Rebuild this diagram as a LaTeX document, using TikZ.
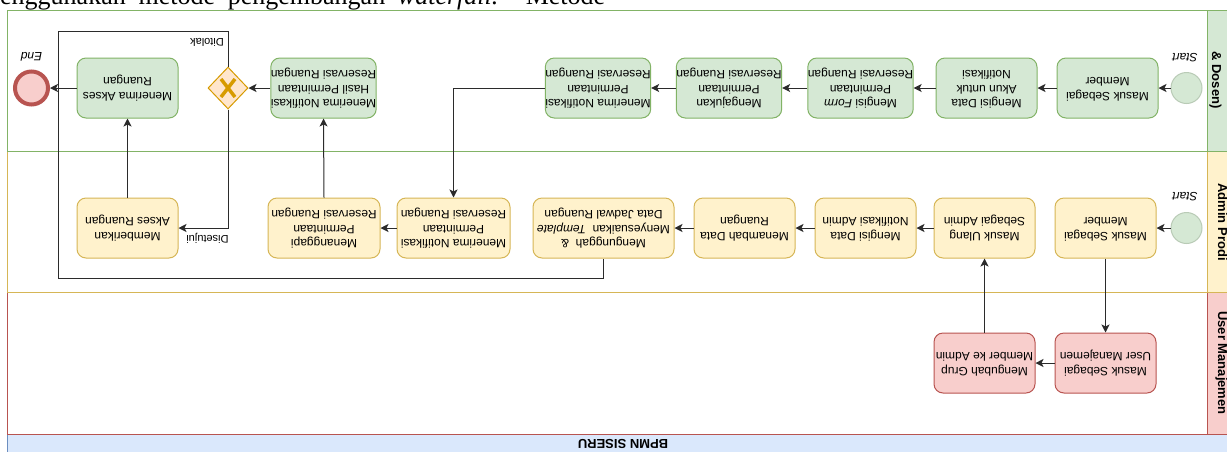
\documentclass[tikz,border=0pt]{standalone}
\usepackage{fontspec}
\setmainfont{Liberation Sans}
\newfontfamily\serifface{Liberation Serif}
\usepackage{graphicx}
\usetikzlibrary{shapes.geometric,arrows.meta}

\definecolor{gFill}{HTML}{D5E8D4}\definecolor{gLine}{HTML}{82B366}
\definecolor{yFill}{HTML}{FFF2CC}\definecolor{yLine}{HTML}{D6B656}
\definecolor{rFill}{HTML}{F8CECC}\definecolor{rLine}{HTML}{B85450}
\definecolor{bFill}{HTML}{DAE8FC}\definecolor{bLine}{HTML}{6C8EBF}
\definecolor{oFill}{HTML}{FFE6CC}\definecolor{oLine}{HTML}{D79B00}
\definecolor{startLine}{HTML}{B9CBB6}
\definecolor{wire}{HTML}{2B2B2B}

% upside-down, centred multi-line label
\newcommand{\upsd}[1]{\rotatebox[origin=c]{180}{\begin{tabular}{@{}c@{}}#1\end{tabular}}}

\tikzset{
  task/.style={rectangle, rounded corners=9pt, draw, line width=1pt,
    minimum width=101pt, minimum height=60pt, inner sep=0pt,
    font=\fontsize{12}{14.4}\selectfont},
  gtask/.style={task, fill=gFill, draw=gLine},
  ytask/.style={task, fill=yFill, draw=yLine},
  rtask/.style={task, fill=rFill, draw=rLine},
  startev/.style={circle, draw=startLine, fill=gFill, line width=1pt,
    minimum size=31pt, inner sep=0pt},
  endev/.style={circle, draw=rLine, fill=rFill, line width=4pt,
    minimum size=33pt, inner sep=0pt},
  xgate/.style={diamond, draw=oLine, fill=oFill, line width=1pt,
    minimum width=40pt, minimum height=42pt, inner sep=0pt},
  flow/.style={draw=wire, line width=1pt, -{Stealth[length=8pt,width=8pt,inset=2pt]}},
  link/.style={draw=wire, line width=1pt},
  evlabel/.style={font=\itshape\fontsize{12}{14}\selectfont, rotate=180, inner sep=0pt},
  edgelabel/.style={font=\fontsize{11}{13}\selectfont, rotate=180, inner sep=0pt},
  lanelabel/.style={font=\bfseries\fontsize{13}{15.6}\selectfont, rotate=-90,
    anchor=base, inner sep=0pt},
  lanebox/.style={line width=1pt}
}

\begin{document}
\begin{tikzpicture}[x=1pt,y=-1pt]
\useasboundingbox (0,0) rectangle (1227,451);

% running text of the page above the figure
\node[anchor=base west, inner sep=0pt, font=\serifface\fontsize{26}{30}\selectfont] (prose) at (0,4)
  {\makebox[605pt][s]{enggunakan metode pengembangan \textit{waterfall.} Metode}};

% pool and lanes (drawn bottom-up so upper borders stay on top)
\draw[lanebox, draw=bLine, fill=bFill] (7,434) rectangle (1240,470);
\node[font=\bfseries\fontsize{13}{15}\selectfont, rotate=180] (pool) at (623,444) {BPMN SISERU};
\draw[lanebox, draw=rLine, fill=white] (7,292) rectangle (1207,434);
\draw[lanebox, draw=rLine, fill=rFill] (1207,292) rectangle (1240,434);
\draw[lanebox, draw=yLine, fill=white] (7,151) rectangle (1207,292);
\draw[lanebox, draw=yLine, fill=yFill] (1207,151) rectangle (1240,292);
\draw[lanebox, draw=gLine, fill=white] (7,10) rectangle (1207,151);
\draw[lanebox, draw=gLine, fill=gFill] (1207,10) rectangle (1240,151);

\node[lanelabel] (lane1) at (1212,80) {\& Dosen)};
\node[lanelabel] (lane2) at (1218,222) {Admin Prodi};
\node[lanelabel] (lane3) at (1218,363) {User Manajemen};

% ---- lane 1
\node[startev] (s1) at (1186.5,88) {};
\node[evlabel] (s1l) at (1185,58) {Start};
\node[gtask] (a1) at (1107.5,88) {\upsd{Masuk Sebagai\\Member}};
\node[gtask] (a2) at (986.5,88) {\upsd{Mengisi Data\\Akun untuk\\Notifikasi}};
\node[gtask] (a3) at (860.5,88) {\upsd{Mengisi \textit{Form}\\Permintaan\\Reservasi Ruangan}};
\node[gtask] (a4) at (729,88) {\upsd{Mengajukan\\Permintaan\\Reservasi Ruangan}};
\node[gtask] (a5) at (598,88) {\upsd{Menerima Notifikasi\\Permintaan\\Reservasi Ruangan}};
\node[gtask] (a6) at (323.5,88) {\upsd{Menerima Notifikasi\\Hasil Permintaan\\Reservasi Ruangan}};
\node[xgate] (gw) at (228,88) {};
\draw[oLine, line width=3.5pt] ([shift={(-7,-9)}]gw.center) -- ([shift={(7,9)}]gw.center)
  ([shift={(-7,9)}]gw.center) -- ([shift={(7,-9)}]gw.center);
\node[gtask] (a7) at (127.5,88) {\upsd{Menerima Akses\\Ruangan}};
\node[endev] (e1) at (31.5,88) {};
\node[evlabel] (e1l) at (31.5,57) {End};

% ---- lane 2
\node[startev] (s2) at (1186.5,228) {};
\node[evlabel] (s2l) at (1185,197) {Start};
\node[ytask] (b1) at (1105.5,228) {\upsd{Masuk Sebagai\\Member}};
\node[ytask] (b2) at (984.5,228) {\upsd{Masuk Ulang\\Sebagai Admin}};
\node[ytask] (b3) at (865.5,228) {\upsd{Mengisi Data\\Notifikasi Admin}};
\node[ytask] (b4) at (744.5,228) {\upsd{Menambah Data\\Ruangan}};
\node[ytask, minimum width=141pt] (b5) at (603.5,228) {\upsd{Mengunggah\ \ \&\\Menyesuaikan\ \ \textit{Template}\\Data Jadwal Ruangan}};
\node[ytask, minimum width=113pt] (b6) at (453.5,228) {\upsd{Menerima Notifikasi\\Permintaan\\Reservasi Ruangan}};
\node[ytask, minimum width=112pt] (b7) at (324,228) {\upsd{Menanggapi\\Permintaan\\Reservasi Ruangan}};
\node[ytask] (b8) at (127.5,228) {\upsd{Memberikan\\Akses Ruangan}};

% ---- lane 3
\node[rtask] (c1) at (1105.5,363) {\upsd{Masuk Sebagai\\User Manajemen}};
\node[rtask] (c2) at (984.5,363) {\upsd{Mengubah Grup\\Member ke Admin}};

% ---- sequence flows
\draw[flow] (s1) -- (a1);
\draw[flow] (a1) -- (a2);
\draw[flow] (a2) -- (a3);
\draw[flow] (a3) -- (a4);
\draw[flow] (a4) -- (a5);
\draw[flow] (a5.west) -| (b6.north);

\draw[flow] (s2) -- (b1);
\draw[flow] (b1.south) -- (c1.north);
\draw[flow] (c1) -- (c2);
\draw[flow] (c2.north) -- (b2.south);
\draw[flow] (b2) -- (b3);
\draw[flow] (b3) -- (b4);
\draw[flow] (b4) -- (b5);

\draw[flow] (b6) -- (b7);
\draw[flow] (b7.north) -- (a6.south);
\draw[flow] (a6) -- (gw);

\coordinate (loopTop) at (58,31);
\coordinate (loopBot) at (58,278);
\draw[link] (gw.north) |- (loopTop) -- (loopBot) -| (b5.south);
\node[edgelabel] (rej) at (207,42) {Ditolak};

\draw[flow] (gw.south) |- (b8.east);
\node[edgelabel] (acc) at (207.5,238) {Disetujui};

\draw[flow] (b8.north) -- (a7.south);
\draw[flow] (a7) -- (e1);
\end{tikzpicture}
\end{document}
